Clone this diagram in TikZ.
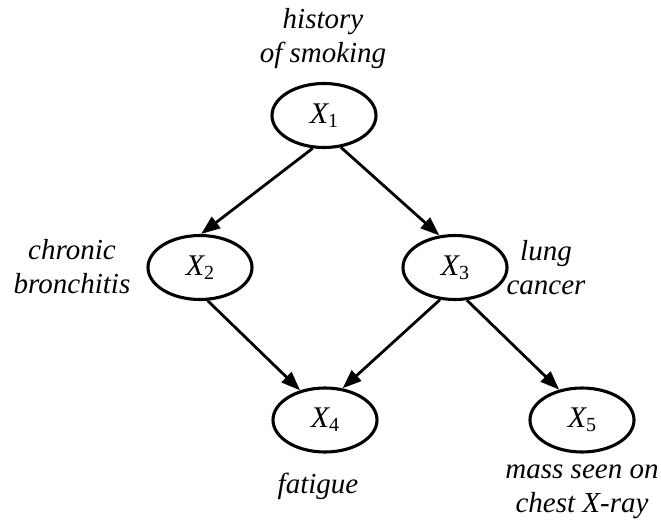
\documentclass[tikz,border=0pt]{standalone}
\usepackage{fontspec}
\setmainfont{Liberation Serif}[ItalicFont={Liberation Serif Italic}]
\usetikzlibrary{shapes.geometric,arrows.meta}
% lowered upright subscript digit for the variable names
\newcommand\vsub[1]{\raisebox{-4pt}{\fontsize{20}{20}\selectfont\upshape #1}}
\begin{document}
\begin{tikzpicture}[x=1pt,y=-1pt,
  var/.style={ellipse,draw,line width=3.1pt,minimum width=104pt,minimum height=64pt,
    inner sep=0pt,font=\fontsize{30}{30}\selectfont\itshape},
  edge/.style={line width=2.8pt,-{Triangle[length=19pt,width=14pt]}},
  lbl/.style={align=center,font=\fontsize{29}{34}\selectfont\itshape,inner sep=0pt,anchor=base}]
\useasboundingbox (0,0) rectangle (661,522);

% variables
\node[var] (x1) at (324,115.5) {X\vsub{1}};
\node[var] (x2) at (200,267.5) {X\vsub{2}};
\node[var] (x3) at (455,267.5) {X\vsub{3}};
\node[var] (x4) at (325,420) {X\vsub{4}};
\node[var] (x5) at (582,420) {X\vsub{5}};

% descriptions (anchored at the baseline of the last line)
\node[lbl] (l1) at (323,62) {history\\of smoking};
\node[lbl] (l2) at (72,293) {chronic\\bronchitis};
\node[lbl] (l3) at (546,294) {lung\\cancer};
\node[lbl] (l4) at (318,493) {fatigue};
\node[lbl] (l5) at (582,512) {mass seen on\\chest X-ray};

% dependencies
\draw[edge] (x1.251) -- (x2.88);
\draw[edge] (x1.298) -- (x3.116);
\draw[edge] (x2.283) -- (x4.130);
\draw[edge] (x3.245) -- (x4.61);
\draw[edge] (x3.290) -- (x5.127);
\end{tikzpicture}
\end{document}
